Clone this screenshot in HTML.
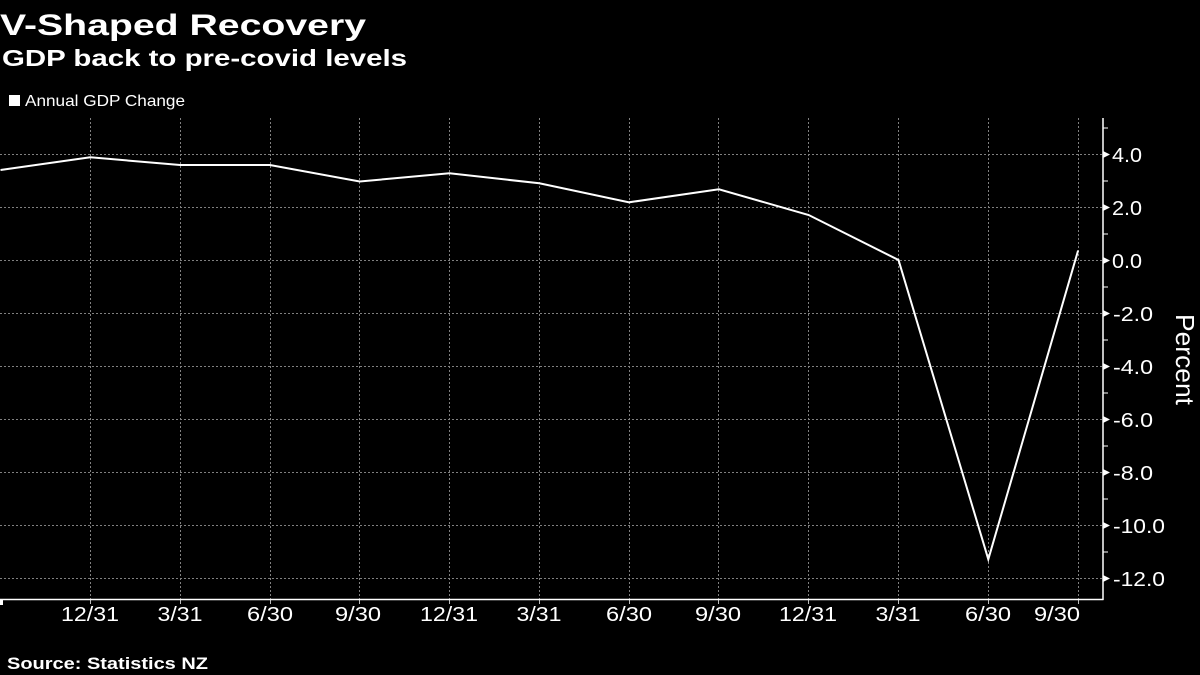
<!DOCTYPE html>
<html>
<head>
<meta charset="utf-8">
<style>
html,body{margin:0;padding:0;background:#000;}
svg{display:block;}
text{font-family:"Liberation Sans","DejaVu Sans",sans-serif;fill:#fff;}
</style>
</head>
<body>
<svg width="1200" height="675" viewBox="0 0 1200 675" xmlns="http://www.w3.org/2000/svg">
<rect x="0" y="0" width="1200" height="675" fill="#000"/>
<!-- titles -->
<text x="0" y="35" font-size="30" font-weight="bold" textLength="366" lengthAdjust="spacingAndGlyphs">V-Shaped Recovery</text>
<text x="2" y="66" font-size="23" font-weight="bold" textLength="405" lengthAdjust="spacingAndGlyphs">GDP back to pre-covid levels</text>
<!-- legend -->
<rect x="9" y="95" width="11" height="11" fill="#fff"/>
<text x="25" y="106" font-size="16" textLength="160" lengthAdjust="spacingAndGlyphs">Annual GDP Change</text>

<!-- horizontal grid -->
<g stroke="#808080" stroke-width="1" stroke-dasharray="2,2">
<line x1="0" y1="154.5" x2="1103" y2="154.5"/>
<line x1="0" y1="207.5" x2="1103" y2="207.5"/>
<line x1="0" y1="260.5" x2="1103" y2="260.5"/>
<line x1="0" y1="313.5" x2="1103" y2="313.5"/>
<line x1="0" y1="366.5" x2="1103" y2="366.5"/>
<line x1="0" y1="419.5" x2="1103" y2="419.5"/>
<line x1="0" y1="472.5" x2="1103" y2="472.5"/>
<line x1="0" y1="525.5" x2="1103" y2="525.5"/>
<line x1="0" y1="578.5" x2="1103" y2="578.5"/>
</g>
<!-- vertical grid -->
<g stroke="#808080" stroke-width="1" stroke-dasharray="2,2">
<line x1="90.5" y1="118" x2="90.5" y2="600"/>
<line x1="180.5" y1="118" x2="180.5" y2="600"/>
<line x1="270.5" y1="118" x2="270.5" y2="600"/>
<line x1="359.5" y1="118" x2="359.5" y2="600"/>
<line x1="449.5" y1="118" x2="449.5" y2="600"/>
<line x1="539.5" y1="118" x2="539.5" y2="600"/>
<line x1="629.5" y1="118" x2="629.5" y2="600"/>
<line x1="718.5" y1="118" x2="718.5" y2="600"/>
<line x1="808.5" y1="118" x2="808.5" y2="600"/>
<line x1="898.5" y1="118" x2="898.5" y2="600"/>
<line x1="988.5" y1="118" x2="988.5" y2="600"/>
<line x1="1078.5" y1="118" x2="1078.5" y2="600"/>
</g>
<!-- x ticks below axis -->
<g stroke="#bbb" stroke-width="1">
<line x1="90.5" y1="600" x2="90.5" y2="604"/>
<line x1="180.5" y1="600" x2="180.5" y2="604"/>
<line x1="270.5" y1="600" x2="270.5" y2="604"/>
<line x1="359.5" y1="600" x2="359.5" y2="604"/>
<line x1="449.5" y1="600" x2="449.5" y2="604"/>
<line x1="539.5" y1="600" x2="539.5" y2="604"/>
<line x1="629.5" y1="600" x2="629.5" y2="604"/>
<line x1="718.5" y1="600" x2="718.5" y2="604"/>
<line x1="808.5" y1="600" x2="808.5" y2="604"/>
<line x1="898.5" y1="600" x2="898.5" y2="604"/>
<line x1="988.5" y1="600" x2="988.5" y2="604"/>
<line x1="1078.5" y1="600" x2="1078.5" y2="604"/>
</g>
<rect x="0" y="600" width="3" height="5" fill="#fff"/>

<!-- axes -->
<line x1="0" y1="599.5" x2="1103.5" y2="599.5" stroke="#fff" stroke-width="1.5"/>
<line x1="1103" y1="118" x2="1103" y2="600" stroke="#fff" stroke-width="1.5"/>
<!-- minor ticks -->
<g stroke="#fff" stroke-width="1">
<line x1="1103" y1="128" x2="1108" y2="128"/>
<line x1="1103" y1="181" x2="1108" y2="181"/>
<line x1="1103" y1="234" x2="1108" y2="234"/>
<line x1="1103" y1="287" x2="1108" y2="287"/>
<line x1="1103" y1="340" x2="1108" y2="340"/>
<line x1="1103" y1="393" x2="1108" y2="393"/>
<line x1="1103" y1="446" x2="1108" y2="446"/>
<line x1="1103" y1="499" x2="1108" y2="499"/>
<line x1="1103" y1="552" x2="1108" y2="552"/>
</g>
<!-- major tick triangles -->
<g fill="#fff">
<polygon points="1103,151 1110,154.5 1103,158"/>
<polygon points="1103,204 1110,207.5 1103,211"/>
<polygon points="1103,257 1110,260.5 1103,264"/>
<polygon points="1103,310 1110,313.5 1103,317"/>
<polygon points="1103,363 1110,366.5 1103,370"/>
<polygon points="1103,416 1110,419.5 1103,423"/>
<polygon points="1103,469 1110,472.5 1103,476"/>
<polygon points="1103,522 1110,525.5 1103,529"/>
<polygon points="1103,575 1110,578.5 1103,582"/>
</g>
<!-- y labels -->
<g font-size="20">
<text x="1112" y="162" textLength="30" lengthAdjust="spacingAndGlyphs">4.0</text>
<text x="1112" y="215" textLength="30" lengthAdjust="spacingAndGlyphs">2.0</text>
<text x="1112" y="268" textLength="30" lengthAdjust="spacingAndGlyphs">0.0</text>
<text x="1113" y="321" textLength="40" lengthAdjust="spacingAndGlyphs">-2.0</text>
<text x="1113" y="374" textLength="40" lengthAdjust="spacingAndGlyphs">-4.0</text>
<text x="1113" y="427" textLength="40" lengthAdjust="spacingAndGlyphs">-6.0</text>
<text x="1113" y="480" textLength="40" lengthAdjust="spacingAndGlyphs">-8.0</text>
<text x="1113" y="533" textLength="52" lengthAdjust="spacingAndGlyphs">-10.0</text>
<text x="1113" y="586" textLength="52" lengthAdjust="spacingAndGlyphs">-12.0</text>
</g>
<text transform="translate(1176,314) rotate(90)" font-size="26" textLength="91" lengthAdjust="spacingAndGlyphs">Percent</text>

<!-- x labels -->
<g font-size="20" text-anchor="middle">
<text x="90" y="621" textLength="58" lengthAdjust="spacingAndGlyphs">12/31</text>
<text x="180" y="621" textLength="45" lengthAdjust="spacingAndGlyphs">3/31</text>
<text x="270" y="621" textLength="46" lengthAdjust="spacingAndGlyphs">6/30</text>
<text x="358" y="621" textLength="46" lengthAdjust="spacingAndGlyphs">9/30</text>
<text x="449" y="621" textLength="58" lengthAdjust="spacingAndGlyphs">12/31</text>
<text x="539" y="621" textLength="45" lengthAdjust="spacingAndGlyphs">3/31</text>
<text x="629" y="621" textLength="46" lengthAdjust="spacingAndGlyphs">6/30</text>
<text x="718" y="621" textLength="46" lengthAdjust="spacingAndGlyphs">9/30</text>
<text x="808" y="621" textLength="58" lengthAdjust="spacingAndGlyphs">12/31</text>
<text x="898" y="621" textLength="45" lengthAdjust="spacingAndGlyphs">3/31</text>
<text x="988" y="621" textLength="46" lengthAdjust="spacingAndGlyphs">6/30</text>
<text x="1057" y="621" textLength="46" lengthAdjust="spacingAndGlyphs">9/30</text>
</g>

<!-- data line -->
<polyline fill="none" stroke="#fff" stroke-width="2" stroke-linejoin="miter"
 points="0.5,170 90.3,157.3 180.1,165 269.9,165 359.7,181.5 449.5,173.3 539.3,183.3 629.1,202.3 718.9,189.3 808.7,215 898.5,260 988.3,559.3 1078.1,250.5"/>

<!-- source -->
<text x="7" y="669" font-size="17" font-weight="bold" textLength="201" lengthAdjust="spacingAndGlyphs">Source: Statistics NZ</text>
</svg>
</body>
</html>
